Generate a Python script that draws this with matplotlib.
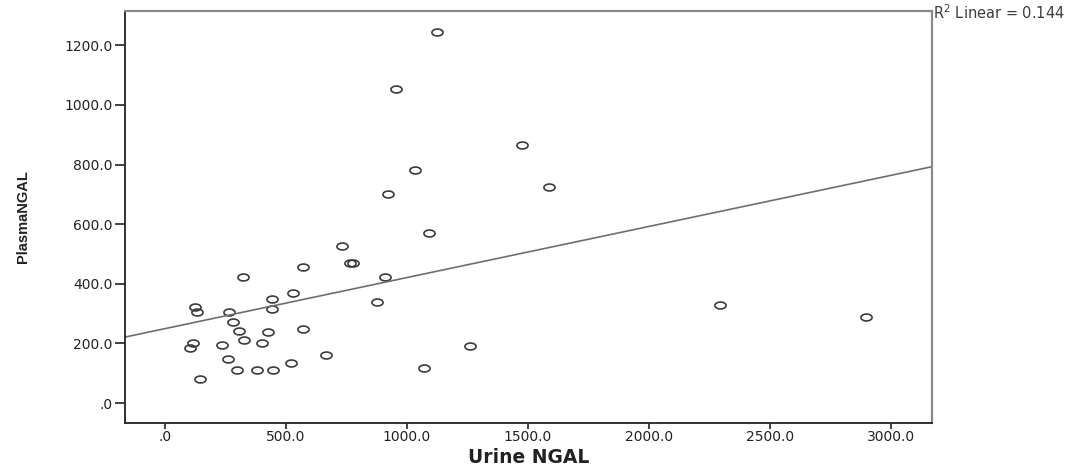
"""Scatter of plasma vs urine NGAL with a linear fit line (SPSS style)."""

import matplotlib
import matplotlib.pyplot as plt
import numpy as np
from matplotlib.path import Path
from matplotlib.ticker import FuncFormatter

matplotlib.use('Agg')

# Values
urine_ngal = [1123, 955, 1474, 1032, 923, 1588, 1092,
              730, 765, 778, 569, 909, 877, 569, 665, 1070, 1260,
              321, 528, 443, 443, 124, 131, 264, 280, 305, 326, 427,
              117, 103, 234, 400, 259, 296, 381, 448, 519, 145,
              2293, 2897]
plasma_ngal = [1244, 1055, 866, 780, 700, 726, 571,
               527, 471, 468, 455, 422, 338, 247, 161, 116, 192,
               424, 368, 348, 316, 321, 305, 306, 272, 242, 211, 238,
               202, 185, 196, 200, 149, 111, 111, 111, 135, 80,
               330, 288]
x_ticks = [0, 500, 1000, 1500, 2000, 2500, 3000]
y_ticks = [0, 200, 400, 600, 800, 1000, 1200]
fit_label = r'R$^2$ Linear = 0.144'


def spss_fmt(v, _pos):
    s = f'{v:.1f}'
    return s[1:] if s.startswith('0.') else s


# slightly flattened circle, like the stretched SPSS markers
t = np.linspace(0, 2 * np.pi, 60)
ellipse = Path(np.column_stack([np.cos(t), 0.62 * np.sin(t)]), closed=True)

fig = plt.figure(figsize=(10.86, 4.68), dpi=100)
ax = fig.add_axes([0.1151, 0.0962, 0.7431, 0.8803])

x = np.array(urine_ngal, dtype=float)
y = np.array(plasma_ngal, dtype=float)

ax.set_xlim(-165, 3169)
ax.set_ylim(-67, 1315)

ax.plot(x, y, linestyle='none', marker=ellipse, markersize=8,
        markerfacecolor='none', markeredgecolor='#3a3a3a', markeredgewidth=1.2)

# linear fit drawn across the whole x range
slope, intercept = np.polyfit(x, y, 1)
xs = np.array(ax.get_xlim())
ax.plot(xs, intercept + slope * xs, color='#6e6e6e', linewidth=1.2)
ax.set_xlim(-165, 3169)

ax.set_xticks(x_ticks)
ax.set_yticks(y_ticks)
ax.xaxis.set_major_formatter(FuncFormatter(spss_fmt))
ax.yaxis.set_major_formatter(FuncFormatter(spss_fmt))
ax.tick_params(axis='both', direction='out', colors='#222222', labelsize=10)
ax.tick_params(axis='y', length=7, width=1.2, pad=2)
ax.tick_params(axis='x', length=4, width=1.2, pad=1)

for side in ('left', 'bottom'):
    ax.spines[side].set_color('#222222')
    ax.spines[side].set_linewidth(1.3)
for side in ('top', 'right'):
    ax.spines[side].set_color('#8a8a8a')
    ax.spines[side].set_linewidth(1.6)

ax.set_xlabel('Urine NGAL', fontsize=13.5, fontweight='bold', color='#222222', va='center')
ax.xaxis.set_label_coords(0.5, -0.083)
ax.set_ylabel('PlasmaNGAL', fontsize=10.5, fontweight='bold', color='#222222',
              family='Liberation Sans', va='center')
ax.yaxis.set_label_coords(-0.126, 0.5)

fig.text(0.859, 0.974, fit_label, fontsize=10.5, color='#3c3c3c', ha='left', va='center')

plt.savefig('out.png', dpi=100)
plt.close(fig)
